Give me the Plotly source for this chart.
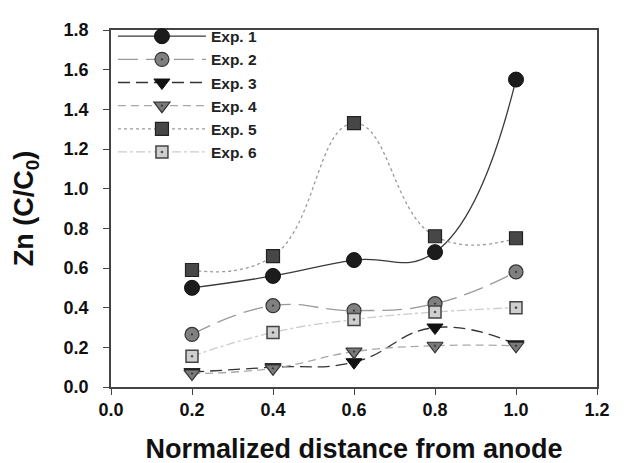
import plotly.graph_objects as go

x_vals = [0.2, 0.4, 0.6, 0.8, 1.0]
exp1 = [0.50, 0.56, 0.64, 0.68, 1.55]
exp2 = [0.265, 0.41, 0.385, 0.42, 0.58]
exp3 = [0.075, 0.10, 0.125, 0.30, 0.215]
exp4 = [0.068, 0.094, 0.178, 0.208, 0.208]
exp5 = [0.59, 0.66, 1.33, 0.76, 0.75]
exp6 = [0.155, 0.275, 0.34, 0.378, 0.40]
names = ["Exp. 1", "Exp. 2", "Exp. 3", "Exp. 4", "Exp. 5", "Exp. 6"]
x_ticks = [0.0, 0.2, 0.4, 0.6, 0.8, 1.0, 1.2]
y_ticks = [0.0, 0.2, 0.4, 0.6, 0.8, 1.0, 1.2, 1.4, 1.6, 1.8]

styles = [
    dict(line=dict(color="#3a3a3a", width=1.3, dash="solid"),
         marker=dict(symbol="circle", size=15, color="#1c1c1c", line=dict(color="#111", width=1))),
    dict(line=dict(color="#9a9a9a", width=1.3, dash="20px,8px"),
         marker=dict(symbol="circle-dot", size=14, color="#808080", line=dict(color="#333", width=1.2))),
    dict(line=dict(color="#333333", width=1.3, dash="12px,6px"),
         marker=dict(symbol="triangle-down", size=14, color="#111111", line=dict(color="#111", width=1))),
    dict(line=dict(color="#a8a8a8", width=1.3, dash="8px,5px"),
         marker=dict(symbol="triangle-down-dot", size=14, color="#7a7a7a", line=dict(color="#333", width=1.2))),
    dict(line=dict(color="#9a9a9a", width=1.3, dash="dot"),
         marker=dict(symbol="square", size=13, color="#474747", line=dict(color="#222", width=1.2))),
    dict(line=dict(color="#cccccc", width=1.3, dash="dashdot"),
         marker=dict(symbol="square-dot", size=12, color="#cfcfcf", line=dict(color="#444", width=1.5))),
]

fig = go.Figure()
for name, ys, st in zip(names, [exp1, exp2, exp3, exp4, exp5, exp6], styles):
    fig.add_trace(go.Scatter(
        x=x_vals, y=ys, name=name, mode="lines+markers",
        line=dict(shape="spline", smoothing=1.3, **st["line"]),
        marker=st["marker"],
    ))

fam = "Liberation Sans, Arial"
tick_font = dict(family=fam, size=18, color="#111", weight="bold")
title_font = dict(family=fam, size=27, color="#111", weight="bold")
fig.update_layout(
    width=624, height=463,
    margin=dict(l=103, r=35, t=15, b=84),
    paper_bgcolor="white", plot_bgcolor="white",
    font=dict(family=fam, color="#111"),
    legend=dict(x=0.004, y=1.029, xanchor="left", yanchor="top",
                bgcolor="rgba(0,0,0,0)", borderwidth=0, itemwidth=88,
                font=dict(family=fam, size=15.5, color="#222", weight="bold"),
                tracegroupgap=0),
    xaxis=dict(range=[0, 1.2], tickvals=x_ticks, ticktext=[f"{v:.1f}" for v in x_ticks],
               showgrid=False, zeroline=False, showline=True, linecolor="#444", linewidth=1.5,
               mirror=True, ticks="outside", ticklen=6, tickcolor="#444",
               tickfont=tick_font,
               title=dict(text="Normalized distance from anode", standoff=20, font=title_font)),
    yaxis=dict(range=[0, 1.8], tickvals=y_ticks, ticktext=[f"{v:.1f}" for v in y_ticks],
               showgrid=False, zeroline=False, showline=True, linecolor="#444", linewidth=1.5,
               mirror=True, ticks="outside", ticklen=6, tickcolor="#444",
               tickfont=tick_font, ticklabelstandoff=11,
               title=dict(text="Zn (C/C<sub>0</sub>)", standoff=22, font=title_font)),
)

fig.write_html("out.html")
